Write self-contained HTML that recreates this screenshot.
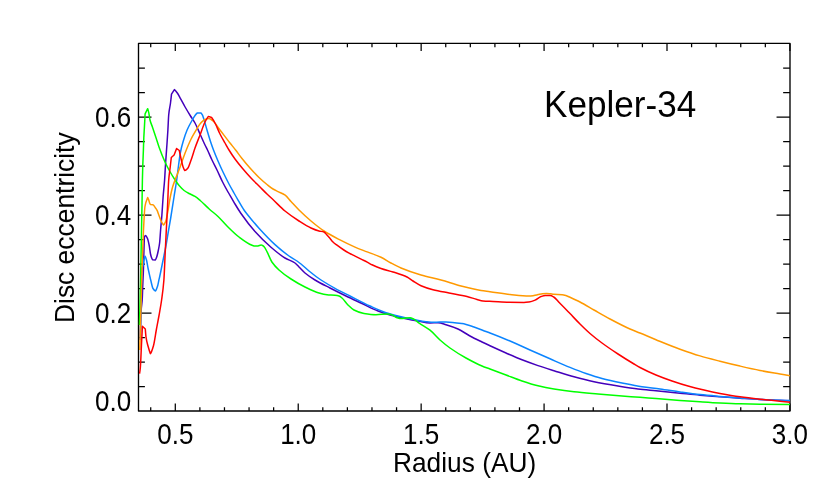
<!DOCTYPE html>
<html><head><meta charset="utf-8"><title>Kepler-34</title>
<style>
html,body{margin:0;padding:0;background:#fff;}
body{width:830px;height:499px;overflow:hidden;font-family:"Liberation Sans",sans-serif;}
svg{display:block;}
text{font-family:"Liberation Sans",sans-serif;fill:#000;}
</style></head>
<body>
<svg width="830" height="499" viewBox="0 0 830 499">
<rect x="0" y="0" width="830" height="499" fill="#ffffff"/>
<g fill="none" stroke="#000" stroke-width="1.35">
<path d="M150.72 411.0 v-3.8M150.72 43.4 v3.8M175.30 411.0 v-7.6M175.30 43.4 v7.6M199.88 411.0 v-3.8M199.88 43.4 v3.8M224.47 411.0 v-3.8M224.47 43.4 v3.8M249.06 411.0 v-3.8M249.06 43.4 v3.8M273.64 411.0 v-3.8M273.64 43.4 v3.8M298.23 411.0 v-7.6M298.23 43.4 v7.6M322.81 411.0 v-3.8M322.81 43.4 v3.8M347.39 411.0 v-3.8M347.39 43.4 v3.8M371.98 411.0 v-3.8M371.98 43.4 v3.8M396.56 411.0 v-3.8M396.56 43.4 v3.8M421.15 411.0 v-7.6M421.15 43.4 v7.6M445.74 411.0 v-3.8M445.74 43.4 v3.8M470.32 411.0 v-3.8M470.32 43.4 v3.8M494.91 411.0 v-3.8M494.91 43.4 v3.8M519.49 411.0 v-3.8M519.49 43.4 v3.8M544.08 411.0 v-7.6M544.08 43.4 v7.6M568.66 411.0 v-3.8M568.66 43.4 v3.8M593.25 411.0 v-3.8M593.25 43.4 v3.8M617.83 411.0 v-3.8M617.83 43.4 v3.8M642.41 411.0 v-3.8M642.41 43.4 v3.8M667.00 411.0 v-7.6M667.00 43.4 v7.6M691.59 411.0 v-3.8M691.59 43.4 v3.8M716.17 411.0 v-3.8M716.17 43.4 v3.8M740.75 411.0 v-3.8M740.75 43.4 v3.8M765.34 411.0 v-3.8M765.34 43.4 v3.8M789.92 411.0 v-7.6M789.92 43.4 v7.6M138.5 386.50 h6.4M789.95 386.50 h-6.800000000000001M138.5 362.00 h6.4M789.95 362.00 h-6.800000000000001M138.5 337.50 h6.4M789.95 337.50 h-6.800000000000001M138.5 313.00 h13M789.95 313.00 h-13.4M138.5 288.50 h6.4M789.95 288.50 h-6.800000000000001M138.5 264.00 h6.4M789.95 264.00 h-6.800000000000001M138.5 239.50 h6.4M789.95 239.50 h-6.800000000000001M138.5 215.00 h13M789.95 215.00 h-13.4M138.5 190.50 h6.4M789.95 190.50 h-6.800000000000001M138.5 166.00 h6.4M789.95 166.00 h-6.800000000000001M138.5 141.50 h6.4M789.95 141.50 h-6.800000000000001M138.5 117.00 h13M789.95 117.00 h-13.4M138.5 92.50 h6.4M789.95 92.50 h-6.800000000000001M138.5 68.00 h6.4M789.95 68.00 h-6.800000000000001" stroke-width="1.25"/>
<rect x="138.5" y="43.4" width="651.5" height="367.6" stroke-linejoin="round"/>
</g>
<g fill="none" stroke-width="1.5" stroke-linejoin="round" stroke-linecap="butt">
<path d="M140.2 340.0C140.53 326.67 140.87 315.00 141.2 310.0C141.53 305.00 141.87 304.93 142.2 300.0C142.43 296.55 142.67 287.49 142.9 282.0C143.08 277.69 143.27 275.23 143.4 270.0C143.60 265.72 143.75 256.67 143.9 252.0C144.10 245.78 144.30 237.61 144.5 237.0C144.83 235.98 145.17 235.50 145.5 235.5C146.17 235.50 146.83 237.02 147.5 238.5C148.10 239.83 148.70 242.87 149.3 246.0C149.70 248.08 150.10 252.17 150.5 254.0C150.80 255.37 151.10 256.36 151.4 257.2C151.77 258.22 152.13 259.13 152.5 259.7L155.4 259.9C155.83 259.29 156.27 258.24 156.7 257.0C157.27 255.38 157.83 252.76 158.4 250.0C158.80 248.05 159.20 246.26 159.6 243.0C159.93 240.28 160.27 234.09 160.6 230.0C161.03 224.69 161.47 220.66 161.9 215.0C162.30 209.77 162.70 202.19 163.1 197.0C163.60 190.51 164.10 186.89 164.6 180.0C164.93 175.41 165.27 168.11 165.6 163.0C166.03 156.36 166.47 151.25 166.9 145.0C167.23 140.19 167.57 135.58 167.9 130.0C168.17 125.54 168.43 117.79 168.7 115.0C169.30 108.72 169.90 107.64 170.5 103.0C170.83 100.42 171.17 97.33 171.5 94.1L174.4 89.6C175.37 90.45 176.33 91.64 177.3 93.0C178.27 94.36 179.23 96.37 180.2 98.1C181.83 101.01 183.47 104.16 185.1 107.0C186.90 110.13 188.70 113.11 190.5 116.0C192.00 118.41 193.50 120.27 195.0 123.0C196.67 126.03 198.33 130.33 200.0 134.0C201.67 137.67 203.33 141.53 205.0 145.0C205.83 146.74 206.67 148.25 207.5 150.0C209.00 153.14 210.50 156.84 212.0 160.0C213.67 163.51 215.33 166.55 217.0 170.0C218.87 173.86 220.73 178.29 222.6 182.0C224.40 185.57 226.20 188.82 228.0 192.0C229.53 194.71 231.07 197.15 232.6 199.8C233.40 201.18 234.20 202.66 235.0 204.0C237.00 207.35 239.00 210.62 241.0 213.5C245.67 220.22 250.33 226.29 255.0 231.5C260.33 237.45 265.67 242.61 271.0 247.2C275.67 251.22 280.33 255.20 285.0 258.0C288.33 260.00 291.67 260.67 295.0 263.0C296.33 263.93 297.67 265.67 299.0 267.0C301.00 269.00 303.00 271.33 305.0 273.0C308.33 275.79 311.67 277.96 315.0 280.0C320.00 283.05 325.00 285.42 330.0 288.0C335.33 290.75 340.67 293.42 346.0 296.0C351.33 298.58 356.67 301.00 362.0 303.5C367.33 306.00 372.67 308.94 378.0 311.0C382.00 312.55 386.00 313.90 390.0 315.0C395.33 316.47 400.67 317.59 406.0 318.7C410.00 319.53 414.00 320.29 418.0 321.0C422.00 321.71 426.00 323.00 430.0 323.0C432.67 323.00 435.33 322.70 438.0 322.7C440.67 322.70 443.33 323.92 446.0 324.7C450.00 325.86 454.00 327.22 458.0 329.0C462.00 330.78 466.00 333.85 470.0 336.0C474.00 338.15 478.00 340.05 482.0 342.0C484.67 343.30 487.33 344.56 490.0 345.8C495.33 348.27 500.67 350.67 506.0 353.0C511.33 355.33 516.67 357.71 522.0 359.8C527.33 361.89 532.67 363.79 538.0 365.6C543.33 367.41 548.67 369.04 554.0 370.7C560.67 372.78 567.33 374.99 574.0 376.8C580.67 378.61 587.33 380.31 594.0 381.7C602.00 383.36 610.00 384.70 618.0 386.0C624.67 387.09 631.33 388.20 638.0 389.0C644.00 389.72 650.00 390.20 656.0 390.8C664.00 391.60 672.00 392.40 680.0 393.2C686.67 393.87 693.33 394.61 700.0 395.2C706.67 395.79 713.33 396.30 720.0 396.8C726.67 397.30 733.33 397.75 740.0 398.2C746.67 398.65 753.33 399.15 760.0 399.5C770.00 400.03 780.00 400.50 790.0 400.8" stroke="#4400bb"/>
<path d="M140.3 340.0C140.53 324.26 140.77 310.18 141.0 300.0C141.27 288.36 141.53 275.91 141.8 272.0C141.93 270.05 142.07 268.70 142.2 268.0C142.57 266.07 142.93 266.21 143.3 264.5C143.50 263.57 143.70 260.92 143.9 260.0C144.30 258.17 144.70 256.36 145.1 256.3C145.57 256.93 146.03 258.36 146.5 260.0C147.00 261.76 147.50 265.55 148.0 268.0C148.67 271.27 149.33 274.08 150.0 277.0C150.23 278.02 150.47 279.06 150.7 280.0C151.47 283.08 152.23 287.28 153.0 288.5C153.83 289.82 154.67 291.00 155.5 291.0C156.20 290.30 156.90 288.26 157.6 286.0C158.03 284.60 158.47 281.92 158.9 280.0C159.13 278.97 159.37 278.05 159.6 277.0C160.77 271.76 161.93 265.75 163.1 260.0C164.10 255.07 165.10 250.47 166.1 245.0C166.93 240.44 167.77 234.87 168.6 230.0C169.30 225.91 170.00 222.20 170.7 218.0C171.80 211.40 172.90 203.96 174.0 197.0C174.90 191.30 175.80 186.35 176.7 180.0C177.33 175.53 177.97 169.64 178.6 165.0C179.23 160.36 179.87 155.22 180.5 152.0C181.43 147.26 182.37 144.14 183.3 141.0C184.57 136.75 185.83 132.97 187.1 130.0C188.73 126.18 190.37 123.40 192.0 120.5C193.07 118.60 194.13 116.55 195.2 115.2C195.93 114.27 196.67 113.48 197.4 112.9L200.9 112.9C201.43 113.22 201.97 114.16 202.5 115.2C202.83 115.85 203.17 116.99 203.5 118.0C204.67 121.53 205.83 126.10 207.0 130.0C208.33 134.45 209.67 139.01 211.0 143.0C211.83 145.49 212.67 147.81 213.5 150.0C215.00 153.94 216.50 157.52 218.0 161.0C219.67 164.86 221.33 168.50 223.0 172.0C225.00 176.20 227.00 180.22 229.0 184.0C230.67 187.15 232.33 190.05 234.0 193.0C235.30 195.30 236.60 197.58 237.9 199.8C239.93 203.28 241.97 207.02 244.0 210.0C245.00 211.46 246.00 212.73 247.0 214.0C251.00 219.08 255.00 223.79 259.0 228.2C264.33 234.08 269.67 239.77 275.0 244.6C279.67 248.82 284.33 252.74 289.0 256.0C291.67 257.86 294.33 259.16 297.0 261.0C298.33 261.92 299.67 262.93 301.0 264.0C303.67 266.14 306.33 268.84 309.0 271.0C313.00 274.25 317.00 277.34 321.0 280.0C325.67 283.10 330.33 285.73 335.0 288.3C340.00 291.05 345.00 293.47 350.0 296.0C356.67 299.38 363.33 302.97 370.0 306.0C375.33 308.42 380.67 310.95 386.0 312.7C390.67 314.23 395.33 315.38 400.0 316.5C404.67 317.62 409.33 318.58 414.0 319.5C418.00 320.29 422.00 321.29 426.0 321.7C428.67 321.98 431.33 322.30 434.0 322.3C438.00 322.30 442.00 321.90 446.0 321.9C451.33 321.90 456.67 322.76 462.0 323.6C466.00 324.23 470.00 325.71 474.0 327.0C478.00 328.29 482.00 330.00 486.0 331.5C487.33 332.00 488.67 332.49 490.0 333.0C496.67 335.56 503.33 338.18 510.0 341.0C516.67 343.82 523.33 347.03 530.0 350.0C536.67 352.97 543.33 355.90 550.0 358.8C556.67 361.70 563.33 364.71 570.0 367.4C575.33 369.55 580.67 371.67 586.0 373.5C591.33 375.33 596.67 377.10 602.0 378.5C608.67 380.25 615.33 381.63 622.0 383.0C628.67 384.37 635.33 385.81 642.0 386.8C648.00 387.69 654.00 388.19 660.0 389.0C666.67 389.90 673.33 391.07 680.0 392.0C686.67 392.93 693.33 393.89 700.0 394.6C706.67 395.31 713.33 395.84 720.0 396.4C726.67 396.96 733.33 397.50 740.0 398.0C746.67 398.50 753.33 399.06 760.0 399.4C766.67 399.74 773.33 399.93 780.0 400.2C783.33 400.33 786.67 400.47 790.0 400.6" stroke="#0a84ff"/>
<path d="M139.5 325.0C139.87 312.95 140.23 297.37 140.6 280.0C140.90 265.79 141.20 245.71 141.5 230.0C141.67 221.27 141.83 214.30 142.0 205.0C142.13 197.56 142.27 186.25 142.4 180.0C142.53 173.75 142.67 169.05 142.8 165.0C143.00 158.92 143.20 155.49 143.4 150.0C143.53 146.34 143.67 141.03 143.8 138.0C143.97 134.21 144.13 132.00 144.3 129.0C144.47 126.00 144.63 123.51 144.8 120.0C144.88 118.24 144.97 116.11 145.1 113.9L147.7 108.7C148.07 109.67 148.43 111.12 148.8 112.8C149.20 114.63 149.60 118.38 150.0 120.0C150.83 123.38 151.67 124.75 152.5 127.2C153.70 130.72 154.90 134.34 156.1 138.0C157.07 140.95 158.03 144.29 159.0 147.0C161.00 152.61 163.00 157.63 165.0 162.0C166.53 165.35 168.07 168.26 169.6 171.0C171.43 174.28 173.27 177.27 175.1 180.0C176.43 181.98 177.77 183.95 179.1 185.5C180.77 187.44 182.43 189.25 184.1 190.5C185.77 191.75 187.43 192.60 189.1 193.5C191.07 194.57 193.03 195.20 195.0 196.4C196.73 197.45 198.47 199.02 200.2 200.5C203.20 203.06 206.20 206.31 209.2 209.0C212.13 211.63 215.07 213.73 218.0 216.5C221.00 219.33 224.00 223.05 227.0 226.0C231.00 229.94 235.00 234.00 239.0 237.0C243.33 240.25 247.67 243.56 252.0 245.2C253.00 245.58 254.00 246.10 255.0 246.1C256.00 246.10 257.00 246.01 258.0 245.9C259.03 245.79 260.07 245.00 261.1 245.0C261.60 245.00 262.10 245.26 262.6 245.5C263.10 245.74 263.60 246.25 264.1 246.8C265.10 247.91 266.10 250.03 267.1 251.9C268.70 254.88 270.30 259.61 271.9 262.0C274.27 265.54 276.63 267.83 279.0 270.0C283.00 273.67 287.00 276.40 291.0 279.0C295.67 282.04 300.33 284.71 305.0 287.0C309.67 289.29 314.33 291.66 319.0 293.0C321.67 293.77 324.33 294.54 327.0 294.8C329.67 295.06 332.33 295.04 335.0 295.3C336.33 295.43 337.67 295.62 339.0 296.0C340.00 296.29 341.00 297.18 342.0 298.0C344.00 299.65 346.00 303.06 348.0 305.0C350.00 306.94 352.00 308.98 354.0 310.0C357.33 311.70 360.67 312.97 364.0 313.5C368.00 314.13 372.00 314.70 376.0 314.7C380.00 314.70 384.00 314.00 388.0 314.0C389.33 314.00 390.67 314.48 392.0 314.9C393.67 315.43 395.33 317.21 397.0 317.7C398.50 318.14 400.00 318.60 401.5 318.6C403.00 318.60 404.50 318.14 406.0 318.0C407.33 317.87 408.67 317.70 410.0 317.7C411.23 317.70 412.47 318.57 413.7 319.2C415.53 320.13 417.37 321.84 419.2 323.1C422.80 325.57 426.40 327.36 430.0 330.2C433.33 332.83 436.67 337.06 440.0 340.0C443.33 342.94 446.67 345.64 450.0 348.0C455.33 351.78 460.67 355.04 466.0 358.0C471.33 360.96 476.67 363.75 482.0 366.0C484.67 367.12 487.33 368.00 490.0 369.0C495.33 371.00 500.67 373.00 506.0 375.0C511.33 377.00 516.67 379.22 522.0 381.0C527.33 382.78 532.67 384.52 538.0 385.8C543.33 387.08 548.67 388.12 554.0 389.0C560.67 390.11 567.33 391.06 574.0 391.8C582.00 392.69 590.00 393.30 598.0 394.0C606.00 394.70 614.00 395.38 622.0 396.0C628.00 396.46 634.00 396.84 640.0 397.3C645.33 397.71 650.67 398.18 656.0 398.6C664.00 399.23 672.00 399.82 680.0 400.4C686.67 400.88 693.33 401.37 700.0 401.8C706.67 402.23 713.33 402.68 720.0 403.0C726.67 403.32 733.33 403.62 740.0 403.8C746.67 403.98 753.33 404.09 760.0 404.2C770.00 404.36 780.00 404.51 790.0 404.6" stroke="#00ff00"/>
<path d="M139.8 350.0C140.43 324.17 141.07 301.18 141.7 280.0C141.97 271.08 142.23 262.44 142.5 255.0C142.83 245.70 143.17 237.11 143.5 230.0C143.77 224.32 144.03 219.12 144.3 215.0C144.50 211.91 144.70 208.46 144.9 207.0C145.17 205.05 145.43 204.08 145.7 203.1C146.07 201.75 146.43 200.94 146.8 199.9C147.09 199.08 147.38 198.28 147.7 197.5C147.98 198.01 148.29 198.70 148.6 199.5C149.00 200.54 149.40 202.74 149.8 203.5C150.07 204.01 150.33 204.44 150.6 204.6C151.37 204.60 152.13 204.63 152.9 204.7C153.57 204.76 154.23 206.22 154.9 207.1C155.63 208.06 156.37 208.88 157.1 210.3C157.67 211.39 158.23 213.48 158.8 215.0C159.57 217.06 160.33 219.46 161.1 221.0C161.90 222.60 162.70 224.00 163.5 224.9C164.20 224.78 164.90 223.22 165.6 221.6C166.43 219.67 167.27 214.38 168.1 210.0C168.77 206.49 169.43 201.40 170.1 198.0C170.93 193.74 171.77 189.85 172.6 187.0C173.43 184.15 174.27 182.26 175.1 180.0C176.77 175.49 178.43 171.49 180.1 167.0C181.77 162.51 183.43 157.25 185.1 153.0C187.10 147.90 189.10 143.02 191.1 139.0C192.40 136.39 193.70 134.20 195.0 132.0C196.67 129.17 198.33 125.92 200.0 124.0C201.67 122.08 203.33 120.14 205.0 119.5C206.33 118.99 207.67 118.50 209.0 118.5C210.33 118.50 211.67 119.91 213.0 121.0C215.33 122.90 217.67 126.98 220.0 130.0C223.33 134.31 226.67 138.76 230.0 143.0C231.87 145.37 233.73 147.60 235.6 150.0C237.73 152.75 239.87 155.82 242.0 158.5C244.67 161.85 247.33 165.02 250.0 168.0C253.00 171.36 256.00 174.63 259.0 177.5C261.67 180.05 264.33 182.35 267.0 184.5C269.00 186.11 271.00 187.78 273.0 189.0C274.67 190.02 276.33 190.75 278.0 191.6C280.40 192.82 282.80 193.53 285.2 195.2C287.13 196.54 289.07 199.42 291.0 201.5C293.67 204.37 296.33 207.36 299.0 210.0C303.00 213.96 307.00 217.65 311.0 221.0C315.33 224.63 319.67 228.18 324.0 231.0C329.00 234.25 334.00 236.81 339.0 239.4C344.33 242.16 349.67 244.80 355.0 247.1C359.07 248.85 363.13 250.30 367.2 251.9C371.80 253.71 376.40 255.14 381.0 257.3C384.33 258.86 387.67 261.22 391.0 263.0C394.33 264.78 397.67 266.60 401.0 268.0C407.67 270.80 414.33 273.06 421.0 275.0C427.67 276.94 434.33 278.18 441.0 280.0C447.67 281.82 454.33 284.29 461.0 286.0C467.67 287.71 474.33 289.42 481.0 290.5C484.00 290.99 487.00 291.29 490.0 291.7C496.67 292.61 503.33 293.80 510.0 294.5C516.33 295.16 522.67 296.10 529.0 296.1C530.67 296.10 532.33 295.76 534.0 295.5C535.37 295.29 536.73 294.89 538.1 294.6C539.57 294.29 541.03 293.86 542.5 293.7C543.83 293.55 545.17 293.40 546.5 293.4C547.83 293.40 549.17 293.64 550.5 293.8C551.57 293.93 552.63 294.22 553.7 294.3C556.53 294.52 559.37 294.46 562.2 294.7C563.40 294.80 564.60 295.15 565.8 295.5C567.20 295.91 568.60 296.68 570.0 297.3C573.33 298.79 576.67 300.29 580.0 302.0C584.67 304.39 589.33 307.35 594.0 310.0C599.33 313.02 604.67 316.17 610.0 319.0C616.67 322.54 623.33 326.07 630.0 329.0C633.33 330.46 636.67 331.64 640.0 333.0C645.33 335.18 650.67 337.53 656.0 339.7C664.00 342.96 672.00 346.30 680.0 349.2C686.67 351.61 693.33 353.93 700.0 355.9C706.67 357.87 713.33 359.50 720.0 361.2C726.67 362.90 733.33 364.55 740.0 366.1C746.67 367.65 753.33 369.20 760.0 370.5C766.67 371.80 773.33 372.85 780.0 374.0C783.33 374.57 786.67 375.14 790.0 375.7" stroke="#ff9900"/>
<path d="M139.5 373.6C139.77 373.12 140.03 370.68 140.3 368.0C140.70 363.98 141.10 351.93 141.5 344.0C141.80 338.05 142.10 332.16 142.4 326.3L145.3 329.0C145.53 332.09 145.77 335.38 146.0 337.0C146.67 341.63 147.33 343.51 148.0 346.0C148.80 348.99 149.60 351.65 150.4 353.6C151.40 352.58 152.40 349.48 153.4 346.0C154.37 342.64 155.33 335.25 156.3 330.0C157.23 324.93 158.17 320.29 159.1 315.0C159.93 310.28 160.77 305.93 161.6 300.0C162.37 294.54 163.13 289.83 163.9 280.0C164.30 274.87 164.70 263.33 165.1 255.0C165.50 246.67 165.90 238.00 166.3 230.0C166.73 221.33 167.17 214.05 167.6 205.0C167.97 197.34 168.33 184.65 168.7 180.0C169.17 174.08 169.63 172.04 170.1 168.0C170.50 164.54 170.90 161.03 171.3 157.5L174.1 155.0L176.6 148.5L179.3 150.5C179.90 153.54 180.50 156.40 181.1 159.0C181.77 161.89 182.43 165.17 183.1 167.0C183.67 168.56 184.23 169.89 184.8 170.6C185.73 170.60 186.67 169.61 187.6 168.6C188.77 167.33 189.93 163.18 191.1 160.0C192.40 156.46 193.70 151.68 195.0 148.0C196.67 143.29 198.33 139.33 200.0 135.0C201.67 130.67 203.33 125.31 205.0 122.0C206.13 119.75 207.27 117.83 208.4 116.4L211.6 117.5C212.73 119.07 213.87 120.91 215.0 123.0C216.67 126.08 218.33 130.70 220.0 134.0C221.67 137.30 223.33 140.04 225.0 143.0C226.33 145.36 227.67 147.84 229.0 150.0C231.00 153.25 233.00 156.26 235.0 159.0C237.67 162.65 240.33 165.84 243.0 169.0C245.67 172.16 248.33 175.17 251.0 178.0C254.00 181.18 257.00 184.00 260.0 187.0C262.33 189.33 264.67 191.75 267.0 194.0C269.07 196.00 271.13 197.85 273.2 199.8C277.13 203.50 281.07 207.78 285.0 211.0C289.67 214.82 294.33 218.01 299.0 221.0C303.00 223.56 307.00 226.20 311.0 228.0C313.67 229.20 316.33 230.32 319.0 231.0C320.67 231.42 322.33 231.40 324.0 232.0C324.83 232.30 325.67 233.63 326.5 234.5C327.57 235.61 328.63 236.77 329.7 238.0C330.80 239.26 331.90 240.93 333.0 242.0C334.33 243.29 335.67 244.20 337.0 245.2C339.03 246.73 341.07 248.18 343.1 249.5C345.10 250.80 347.10 252.01 349.1 253.1C351.10 254.19 353.10 255.10 355.1 256.1C357.10 257.10 359.10 258.11 361.1 259.1C363.13 260.11 365.17 261.03 367.2 262.1C368.80 262.94 370.40 264.03 372.0 264.8C375.00 266.25 378.00 267.47 381.0 268.5C385.00 269.88 389.00 270.72 393.0 272.0C397.67 273.49 402.33 274.74 407.0 277.0C409.00 277.97 411.00 279.75 413.0 281.0C415.67 282.67 418.33 284.54 421.0 285.7C425.00 287.43 429.00 288.67 433.0 289.7C438.33 291.07 443.67 291.93 449.0 293.0C455.00 294.20 461.00 295.05 467.0 296.5C470.33 297.30 473.67 298.60 477.0 299.5C479.00 300.04 481.00 300.82 483.0 301.0C486.33 301.29 489.67 301.33 493.0 301.5C498.33 301.77 503.67 302.24 509.0 302.3C514.00 302.36 519.00 302.40 524.0 302.4C525.67 302.40 527.33 302.14 529.0 301.9C531.03 301.60 533.07 300.91 535.1 300.1C537.10 299.31 539.10 297.16 541.1 296.5C542.50 296.03 543.90 295.50 545.3 295.5C546.90 295.50 548.50 295.53 550.1 295.6C551.30 295.65 552.50 296.35 553.7 297.0C555.53 298.00 557.37 300.64 559.2 302.5C562.80 306.14 566.40 309.88 570.0 313.6C573.33 317.05 576.67 320.69 580.0 324.0C583.33 327.31 586.67 330.61 590.0 333.5C594.00 336.96 598.00 340.05 602.0 343.0C607.33 346.94 612.67 350.51 618.0 354.0C623.33 357.49 628.67 360.80 634.0 364.0C636.00 365.20 638.00 366.44 640.0 367.5C645.33 370.32 650.67 372.78 656.0 375.0C661.33 377.22 666.67 379.18 672.0 381.0C677.33 382.82 682.67 384.52 688.0 386.0C693.33 387.48 698.67 388.77 704.0 390.0C709.33 391.23 714.67 392.39 720.0 393.4C726.67 394.66 733.33 395.86 740.0 396.8C746.67 397.74 753.33 398.47 760.0 399.2C766.67 399.93 773.33 400.53 780.0 401.2C783.33 401.53 786.67 401.87 790.0 402.2" stroke="#ff0000"/>
</g>
<g font-size="26px" opacity="0.999"><text transform="translate(175.3 444.1) scale(1 1.105)" text-anchor="middle">0.5</text><text transform="translate(298.2 444.1) scale(1 1.105)" text-anchor="middle">1.0</text><text transform="translate(421.1 444.1) scale(1 1.105)" text-anchor="middle">1.5</text><text transform="translate(544.1 444.1) scale(1 1.105)" text-anchor="middle">2.0</text><text transform="translate(667.0 444.1) scale(1 1.105)" text-anchor="middle">2.5</text><text transform="translate(789.9 444.1) scale(1 1.105)" text-anchor="middle">3.0</text><text transform="translate(131.2 411.1) scale(1 1.105)" text-anchor="end">0.0</text><text transform="translate(131.2 322.6) scale(1 1.105)" text-anchor="end">0.2</text><text transform="translate(131.2 224.7) scale(1 1.105)" text-anchor="end">0.4</text><text transform="translate(131.2 126.7) scale(1 1.105)" text-anchor="end">0.6</text>
<text transform="translate(544.1 117.0) scale(1.029 1.09)" font-size="34.1px">Kepler-34</text>
<text transform="translate(464.6 472.4) scale(1 1.025)" text-anchor="middle" font-size="26.3px">Radius (AU)</text>
<text transform="translate(74.4 227.7) rotate(-90) scale(1 1.045)" text-anchor="middle" font-size="26.4px">Disc eccentricity</text>
</g>

</svg>
</body></html>
